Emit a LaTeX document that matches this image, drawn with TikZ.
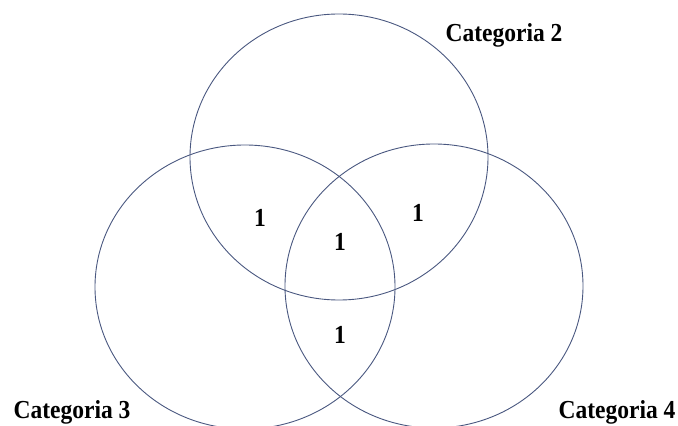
\documentclass[tikz,border=0pt]{standalone}
\usepackage{fontspec}
\setmainfont{Liberation Serif}
\definecolor{venn}{RGB}{74,88,128}
\begin{document}
\begin{tikzpicture}[x=1pt,y=1pt,
  setline/.style={draw=venn,line width=0.9pt},
  txt/.style={font=\fontsize{24}{28}\selectfont\bfseries,inner sep=0pt,xscale=0.98,yscale=1.08,transform shape},
  catlabel/.style={txt,anchor=base},
  count/.style={txt}]
\useasboundingbox (0,0) rectangle (678,426);
\begin{scope}
\clip (0,0) rectangle (678,426);
\draw[setline] (339,269) ellipse [x radius=149, y radius=143];
\draw[setline] (245,139) ellipse [x radius=150, y radius=142];
\draw[setline] (434,140) ellipse [x radius=149, y radius=142];
\end{scope}
\node[catlabel] (c2) at (504,384) {Categoria 2};
\node[catlabel] (c3) at (72,7) {Categoria 3};
\node[catlabel] (c4) at (617,7) {Categoria 4};
\node[count] (n23) at (260,208) {1};
\node[count] (n234) at (340,184) {1};
\node[count] (n24) at (418,213) {1};
\node[count] (n34) at (340,91) {1};
\end{tikzpicture}
\end{document}
